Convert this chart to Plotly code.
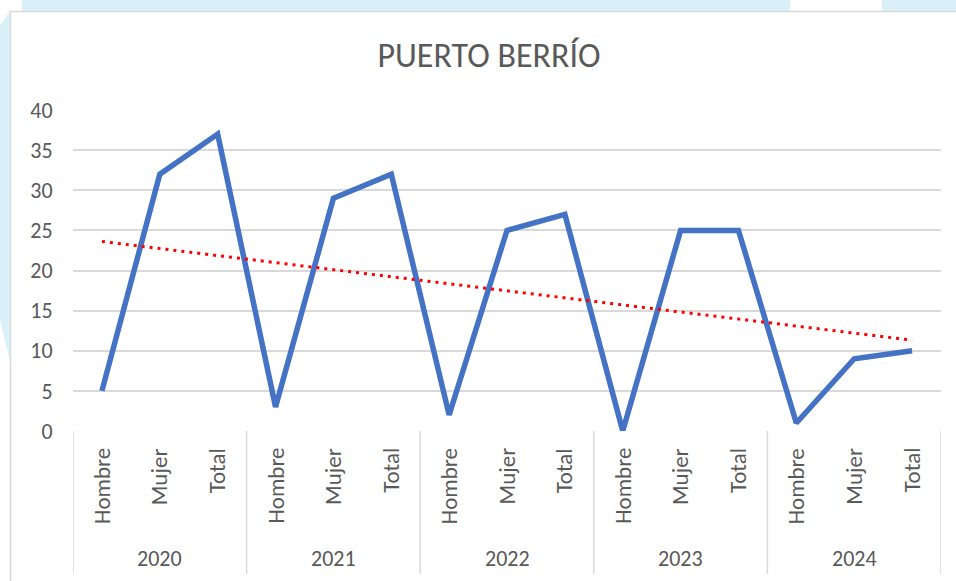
import numpy as np
import plotly.graph_objects as go

years = ["2020", "2021", "2022", "2023", "2024"]
groups = ["Hombre", "Mujer", "Total"]
values = [5, 32, 37, 3, 29, 32, 2, 25, 27, 0, 25, 25, 1, 9, 10]
y_ticks = [0, 5, 10, 15, 20, 25, 30, 35, 40]

W, H = 956, 581
L, R, T, B = 73, 941, 110, 431
FONT = "Carlito, Calibri, Lato, sans-serif"
GRAY = "#595959"
GRID = "#D9D9D9"


def px(x):
    return (x - L) / (R - L)


def py(y):
    return (B - y) / (B - T)


x = list(range(len(values)))
coef = np.polyfit(x, values, 1)
trend_x = [x[0], x[-1]]
trend_y = [coef[0] * v + coef[1] for v in trend_x]

fig = go.Figure()
fig.add_trace(go.Scatter(x=x, y=values, mode="lines",
                         line=dict(color="#4472C4", width=5.5),
                         hoverinfo="skip", showlegend=False))
fig.add_trace(go.Scatter(x=trend_x, y=trend_y, mode="lines",
                         line=dict(color="#FF0000", width=3, dash="3px,5px"),
                         hoverinfo="skip", showlegend=False))

shapes = []
# background decorations
cyan = "#DAF0F8"
shapes.append(dict(type="rect", xref="paper", yref="paper", layer="below",
                   x0=px(22), x1=px(790), y0=py(0), y1=py(12),
                   fillcolor=cyan, line=dict(width=0)))
shapes.append(dict(type="rect", xref="paper", yref="paper", layer="below",
                   x0=px(882), x1=px(957), y0=py(0), y1=py(12),
                   fillcolor=cyan, line=dict(width=0)))
path = "M {} {} L {} {} L {} {} L {} {} Z".format(
    px(0), py(25), px(11), py(10), px(11), py(365), px(0), py(320))
shapes.append(dict(type="path", xref="paper", yref="paper", layer="below",
                   path=path, fillcolor=cyan, line=dict(width=0)))
# chart border
shapes.append(dict(type="rect", xref="paper", yref="paper", layer="below",
                   x0=px(10.5), x1=px(960), y0=py(11.5), y1=py(590),
                   fillcolor="white", line=dict(color=GRID, width=1.5)))

# category dividers
for k in range(len(years) + 1):
    xv = k * len(groups) - 0.5
    shapes.append(dict(type="line", xref="x", yref="paper",
                       x0=xv, x1=xv, y0=0, y1=py(574),
                       line=dict(color=GRID, width=1.5)))

annotations = []
for i, yr in enumerate(years):
    for j, g in enumerate(groups):
        annotations.append(dict(x=i * len(groups) + j, xref="x", yref="paper",
                                y=py(446), yanchor="top", xanchor="center",
                                text=g, textangle=-90, showarrow=False,
                                font=dict(family=FONT, size=23, color=GRAY)))
    annotations.append(dict(x=i * len(groups) + 1, xref="x", yref="paper",
                            y=py(558), yanchor="middle", xanchor="center",
                            text=yr, showarrow=False,
                            font=dict(family=FONT, size=22, color=GRAY)))

fig.update_layout(
    width=W, height=H,
    margin=dict(l=L, r=W - R, t=T, b=H - B),
    paper_bgcolor="white", plot_bgcolor="rgba(0,0,0,0)",
    title=dict(text="PUERTO BERRÍO", x=489 / W, xanchor="center",
               y=1 - 55 / H, yanchor="middle",
               font=dict(family=FONT, size=34, color=GRAY)),
    xaxis=dict(range=[-0.5, len(values) - 0.5], showgrid=False, zeroline=False,
               showticklabels=False, showline=False, fixedrange=True),
    yaxis=dict(range=[0, 40], tickvals=y_ticks, showgrid=True, gridcolor=GRID,
               gridwidth=1.5, zeroline=False, showline=False,
               ticks="outside", ticklen=0, ticklabelstandoff=15,
               tickfont=dict(family=FONT, size=22, color=GRAY)),
    shapes=shapes, annotations=annotations,
)
fig.write_html("out.html", config={"displayModeBar": False},
               post_script="document.body.style.margin='0';"
                           "document.body.style.overflow='hidden';")
